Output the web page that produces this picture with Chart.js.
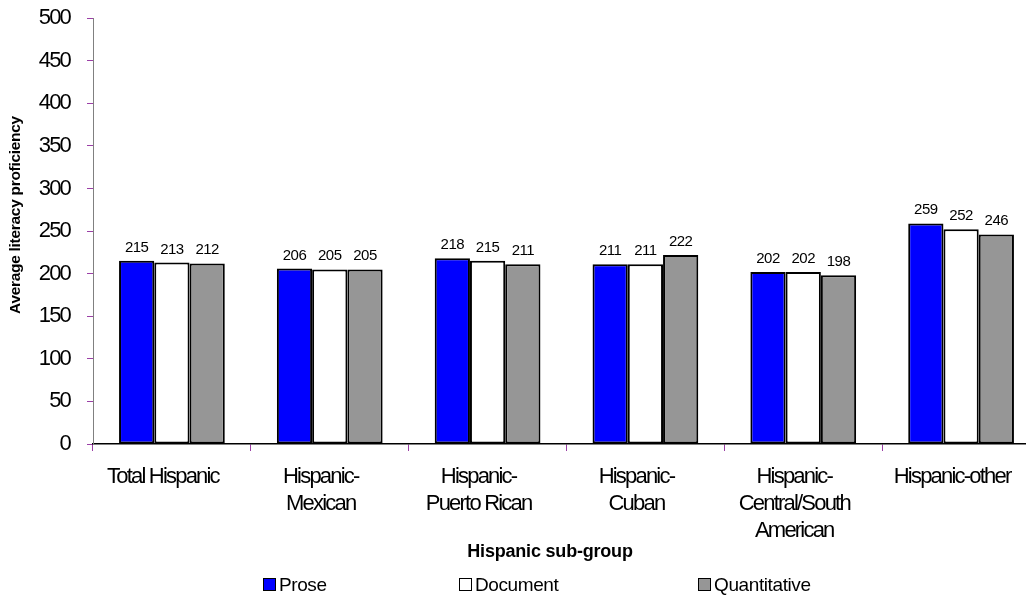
<!DOCTYPE html>
<html>
<head>
<meta charset="utf-8">
<script src="https://cdn.jsdelivr.net/npm/chart.js@4/dist/chart.umd.min.js"></script>
<style>
  html, body { margin: 0; padding: 0; background: #ffffff; overflow: hidden; }
  canvas { display: block; }
</style>
</head>
<body>
<canvas id="chart" width="1040" height="597"></canvas>
<script>
// Average literacy proficiency by Hispanic sub-group
const categories = [
  "Total Hispanic",
  ["Hispanic-", "Mexican"],
  ["Hispanic-", "Puerto Rican"],
  ["Hispanic-", "Cuban"],
  ["Hispanic-", "Central/South", "American"],
  "Hispanic-other"
];
const seriesNames = ["Prose", "Document", "Quantitative"];
const prose = [215, 206, 218, 211, 202, 259];
const documentScores = [213, 205, 215, 211, 202, 252];
const quantitative = [212, 205, 211, 222, 198, 246];
const yMin = 0;
const yMax = 500;
const yStep = 50;
const xAxisTitle = "Hispanic sub-group";
const yAxisTitle = "Average literacy proficiency";

const SANS = "'Liberation Sans', Arial, Helvetica, sans-serif";
const TICK_COLOR = "#9b3fa6";
const TICK_SPACING = "-1.8px";
const seriesColors = ["#0000ff", "#ffffff", "#969696"];

// Tight tracking for the axis tick labels (measured and drawn by the scales)
const tightTicks = {
  id: "tightTicks",
  beforeLayout(chart) { chart.ctx.letterSpacing = TICK_SPACING; },
  beforeDraw(chart) { chart.ctx.letterSpacing = TICK_SPACING; }
};

// Value printed above every bar
const valueLabels = {
  id: "valueLabels",
  afterDatasetsDraw(chart) {
    const ctx = chart.ctx;
    ctx.save();
    ctx.font = "15px " + SANS;
    ctx.letterSpacing = "-0.5px";
    ctx.fillStyle = "#000";
    ctx.textAlign = "center";
    ctx.textBaseline = "alphabetic";
    chart.data.datasets.forEach((ds, i) => {
      chart.getDatasetMeta(i).data.forEach((bar, j) => {
        ctx.fillText(String(ds.data[j]), bar.x, bar.y - 9);
      });
    });
    ctx.restore();
  }
};

// Axis titles and the legend row along the bottom
const titlesAndLegend = {
  id: "titlesAndLegend",
  afterDraw(chart) {
    const ctx = chart.ctx;
    ctx.save();
    ctx.fillStyle = "#000";

    // vertical axis title
    ctx.save();
    ctx.translate(16, 215);
    ctx.rotate(-Math.PI / 2);
    ctx.font = "bold 15.5px " + SANS;
    ctx.letterSpacing = "-0.3px";
    ctx.textAlign = "center";
    ctx.textBaseline = "middle";
    ctx.fillText(yAxisTitle, 0, 0);
    ctx.restore();

    // horizontal axis title
    ctx.font = "bold 18px " + SANS;
    ctx.letterSpacing = "-0.2px";
    ctx.textAlign = "center";
    ctx.textBaseline = "alphabetic";
    ctx.fillText(xAxisTitle, 550, 557);

    // legend
    const legendX = [263, 459, 698];
    ctx.font = "19px " + SANS;
    ctx.letterSpacing = "-0.4px";
    ctx.textAlign = "left";
    chart.data.datasets.forEach((ds, i) => {
      const x = legendX[i];
      ctx.fillStyle = ds.backgroundColor;
      ctx.fillRect(x, 578, 13, 13);
      ctx.lineWidth = 1;
      ctx.strokeStyle = "#000";
      ctx.strokeRect(x + 0.5, 578.5, 12, 12);
      ctx.fillStyle = "#000";
      ctx.fillText(ds.label, x + 16, 591);
    });
    ctx.restore();
  }
};

const makeSeries = (i, values) => ({
  label: seriesNames[i],
  data: values,
  backgroundColor: seriesColors[i],
  borderColor: "#000000",
  borderWidth: 2,
  borderSkipped: false,
  categoryPercentage: 0.67,
  barPercentage: 1.0
});

new Chart(document.getElementById("chart"), {
  type: "bar",
  data: {
    labels: categories,
    datasets: [
      makeSeries(0, prose),
      makeSeries(1, documentScores),
      makeSeries(2, quantitative)
    ]
  },
  options: {
    responsive: false,
    animation: false,
    devicePixelRatio: 1,
    layout: { padding: { top: 18, left: 0, right: 0, bottom: 0 } },
    plugins: {
      legend: { display: false },
      tooltip: { enabled: false }
    },
    scales: {
      x: {
        afterFit(scale) { scale.height = 153; },
        grid: {
          offset: true,
          drawOnChartArea: false,
          drawTicks: true,
          tickLength: 7,
          tickColor: TICK_COLOR,
          tickWidth: 1
        },
        border: { display: true, color: "#000000", width: 1.5 },
        ticks: {
          color: "#000",
          maxRotation: 0,
          autoSkip: false,
          padding: 12,
          labelOffset: -9,
          font: { family: SANS, size: 22, lineHeight: 1.23 }
        }
      },
      y: {
        min: yMin,
        max: yMax,
        afterFit(scale) { scale.width = 93; },
        grid: {
          drawOnChartArea: false,
          drawTicks: true,
          tickLength: 6,
          tickColor: TICK_COLOR,
          tickWidth: 1
        },
        border: { display: true, color: "#808080", width: 1 },
        ticks: {
          stepSize: yStep,
          color: "#000",
          padding: 17,
          font: { family: SANS, size: 22, lineHeight: 0.1 }
        }
      }
    }
  },
  plugins: [tightTicks, valueLabels, titlesAndLegend]
});
</script>
</body>
</html>
